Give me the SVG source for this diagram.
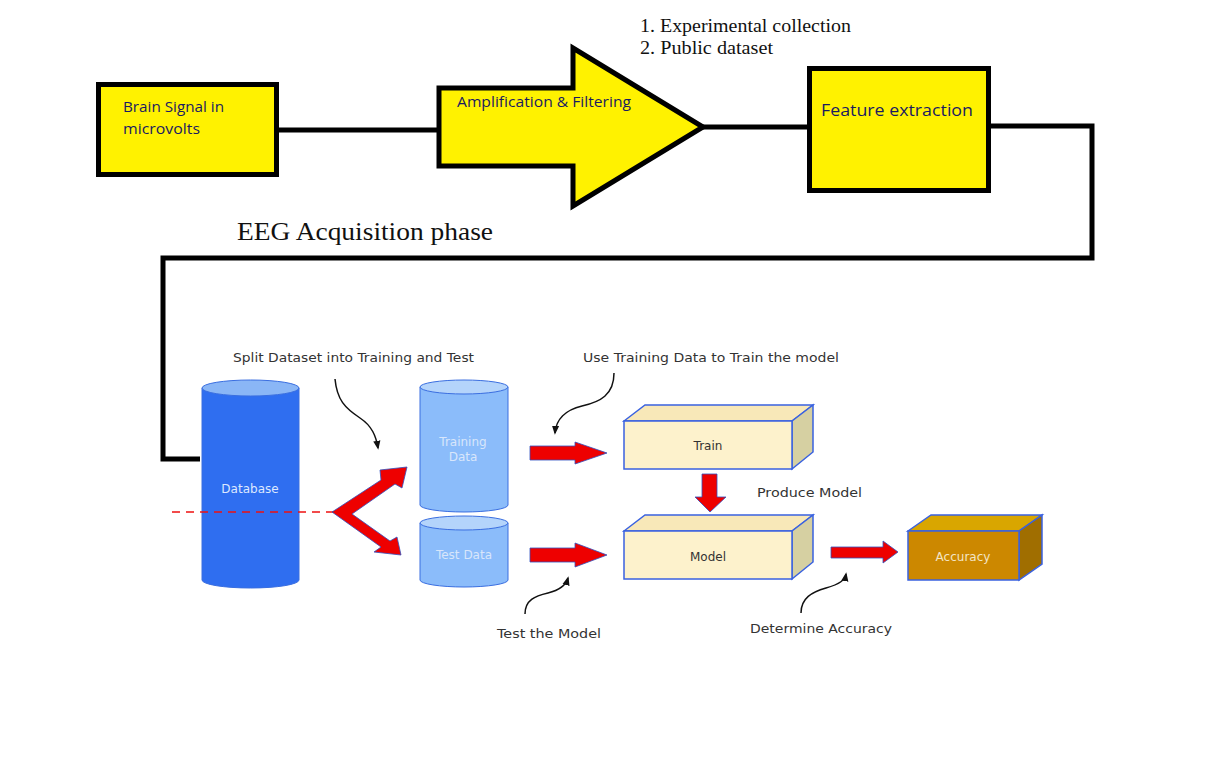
<svg xmlns="http://www.w3.org/2000/svg" width="1216" height="772" viewBox="0 0 1216 772">
<style>
.blk{fill:#fff200;stroke:#000;stroke-width:5}
.wire{fill:none;stroke:#000;stroke-width:5}
.t1{font-family:"Open Sans","Liberation Sans",sans-serif;font-size:15px;fill:#1a1a60}
.serif{font-family:"Liberation Serif",serif;fill:#111}
.lbl{font-family:"DejaVu Sans","Liberation Sans",sans-serif;font-size:11.5px;fill:#333}
.cyl{stroke:#3a6ee0;stroke-width:1}
.red{fill:#ee0000;stroke:#3050c0;stroke-width:0.8}
.curve{fill:none;stroke:#111;stroke-width:1.5}
.box{stroke:#3a62e0;stroke-width:1.5}
.in{font-family:"DejaVu Sans",sans-serif;font-size:12px}
</style>
<defs>
<marker id="ah" viewBox="0 0 10 10" refX="8" refY="5" markerWidth="6" markerHeight="6" orient="auto"><path d="M0,1 L10,5 L0,9 Z" fill="#111"/></marker>
</defs>
<rect width="1216" height="772" fill="#fff"/>

<g id="brain-signal">
<rect class="blk" x="98.5" y="84.5" width="178" height="90"/>
<text class="t1" x="123" y="112" textLength="101" lengthAdjust="spacingAndGlyphs">Brain Signal in</text>
<text class="t1" x="123" y="134" textLength="77" lengthAdjust="spacingAndGlyphs">microvolts</text>
</g>

<g id="amplification">
<path class="blk" d="M439,88 L573,88 L573,48 L703,127 L573,206 L573,166 L439,166 Z"/>
<text class="t1" x="457" y="107" textLength="174" lengthAdjust="spacingAndGlyphs">Amplification &amp; Filtering</text>
</g>

<g id="feature-extraction">
<rect class="blk" x="809.5" y="68.5" width="179" height="122"/>
<text class="t1" x="821" y="116" style="font-size:17px" textLength="152" lengthAdjust="spacingAndGlyphs">Feature extraction</text>
</g>

<g id="sources">
<text class="serif" x="640" y="32" font-size="18" textLength="211" lengthAdjust="spacingAndGlyphs">1. Experimental collection</text>
<text class="serif" x="640" y="54" font-size="18" textLength="133" lengthAdjust="spacingAndGlyphs">2. Public dataset</text>
</g>

<g id="phase-label">
<text class="serif" x="237" y="240" font-size="25" textLength="256" lengthAdjust="spacingAndGlyphs">EEG Acquisition phase</text>
</g>

<g id="database">
<path class="cyl" fill="#2f6ef0" d="M202,388 L202,580 A48.5,8 0 0 0 299,580 L299,388 Z"/>
<ellipse class="cyl" cx="250.5" cy="388" rx="48.5" ry="8" fill="#8ab6f6"/>
<text class="in" x="250" y="493" text-anchor="middle" fill="#dde8ff">Database</text>
</g>

<g id="training-data">
<path class="cyl" fill="#8bbcfa" d="M420,387 L420,505 A44,7 0 0 0 508,505 L508,387 Z"/>
<ellipse class="cyl" cx="464" cy="387" rx="44" ry="7" fill="#b4d4fb"/>
<text class="in" x="463" y="446" text-anchor="middle" fill="#d8e6fb">Training</text>
<text class="in" x="463" y="461" text-anchor="middle" fill="#d8e6fb">Data</text>
</g>

<g id="test-data">
<path class="cyl" fill="#8bbcfa" d="M420,523 L420,580 A44,7 0 0 0 508,580 L508,523 Z"/>
<ellipse class="cyl" cx="464" cy="523" rx="44" ry="7" fill="#b4d4fb"/>
<text class="in" x="464" y="559" text-anchor="middle" fill="#d8e6fb">Test Data</text>
</g>

<g id="train">
<path class="box" fill="#f8e8b8" d="M624,421 L645,405 L813,405 L792,421 Z"/>
<path class="box" fill="#d6d0a2" d="M792,421 L813,405 L813,452 L792,469 Z"/>
<rect class="box" x="624" y="421" width="168" height="48" fill="#fdf2cc"/>
<text class="in" x="708" y="450" text-anchor="middle" fill="#333">Train</text>
</g>

<g id="model">
<path class="box" fill="#f8e8b8" d="M624,531 L645,515 L813,515 L792,531 Z"/>
<path class="box" fill="#d6d0a2" d="M792,531 L813,515 L813,562 L792,579 Z"/>
<rect class="box" x="624" y="531" width="168" height="48" fill="#fdf2cc"/>
<text class="in" x="708" y="561" text-anchor="middle" fill="#333">Model</text>
</g>

<g id="accuracy">
<path class="box" fill="#d9a600" d="M908,531 L931,515 L1042,515 L1019,531 Z"/>
<path class="box" fill="#a06e00" d="M1019,531 L1042,515 L1042,564 L1019,580 Z"/>
<rect class="box" x="908" y="531" width="111" height="49" fill="#cc8800"/>
<text class="in" x="963" y="561" text-anchor="middle" fill="#f3e4c4">Accuracy</text>
</g>

<g id="connectors">
<path class="wire" d="M277,130 L439,130"/>
<path class="wire" d="M703,127 L809,127"/>
<path class="wire" d="M989,126 L1092,126 L1092,258 L163,258 L163,459 L200,459"/>
<line x1="172" y1="512" x2="335" y2="512" stroke="#ee1111" stroke-width="1.5" stroke-dasharray="8,6"/>
<path class="curve" marker-end="url(#ah)" d="M335,379 C337,400 345,408 360,418 C372,426 376,436 378,448"/>
<path class="curve" marker-end="url(#ah)" d="M614,373 C614,395 600,402 582,406 C565,410 556,420 555,433"/>
<path class="curve" marker-end="url(#ah)" d="M525,614 C525,600 535,596 548,593 C560,590 566,585 568,578"/>
<path class="curve" marker-end="url(#ah)" d="M801,613 C801,598 812,592 826,588 C840,584 845,580 846,574"/>
<path class="red" d="M332,512 L381,480 L380,470 L407,467 L402,488 L395,484 L352,514 L390,541 L397,537 L401,555 L374,552 L381,547 Z"/>
<path class="red" d="M530,446 L575,446 L575,442 L607,453 L575,464 L575,460 L530,460 Z"/>
<path class="red" d="M530,548 L575,548 L575,543 L607,555 L575,567 L575,562 L530,562 Z"/>
<path class="red" d="M702,474 L717,474 L717,497 L726,497 L710,512 L695,497 L702,497 Z"/>
<path class="red" d="M831,547 L883,547 L883,541 L898,552 L883,563 L883,558 L831,558 Z"/>
</g>

<g id="labels">
<text class="lbl" x="233" y="362" textLength="241" lengthAdjust="spacingAndGlyphs">Split Dataset into Training and Test</text>
<text class="lbl" x="583" y="362" textLength="256" lengthAdjust="spacingAndGlyphs">Use Training Data to Train the model</text>
<text class="lbl" x="757" y="497" textLength="105" lengthAdjust="spacingAndGlyphs">Produce Model</text>
<text class="lbl" x="497" y="638" textLength="104" lengthAdjust="spacingAndGlyphs">Test the Model</text>
<text class="lbl" x="750" y="633" textLength="142" lengthAdjust="spacingAndGlyphs">Determine Accuracy</text>
</g>
</svg>
